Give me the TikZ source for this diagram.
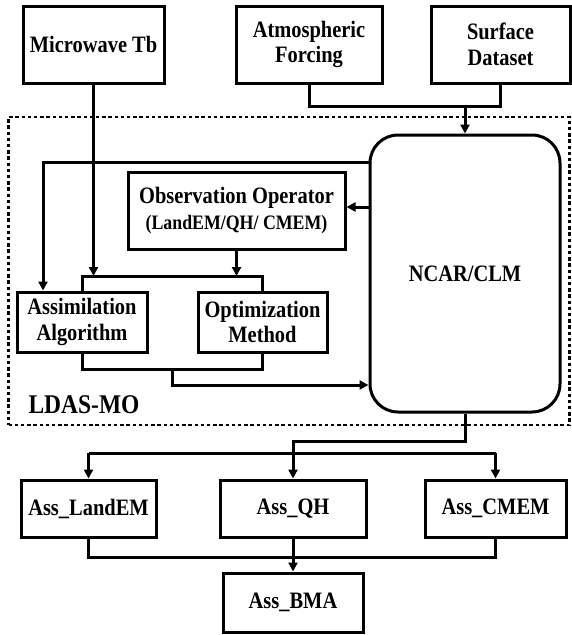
\documentclass[tikz,border=0pt]{standalone}
\usepackage{fontspec}
\setmainfont{Liberation Serif}[FakeStretch=0.87]
\usetikzlibrary{arrows.meta}
\begin{document}
\begin{tikzpicture}[x=1pt,y=-1pt,
  box/.style={draw, line width=3pt, rectangle, align=center, inner sep=0pt,
    font=\bfseries\fontsize{23.5}{25.5}\selectfont},
  conn/.style={line width=3pt},
  arr/.style={line width=3pt, -{Triangle[length=9pt,width=9pt]}},
  frame/.style={draw, line width=2.8pt, dash pattern=on 3.4pt off 2.8pt, inner sep=0pt}]
\useasboundingbox (0,0) rectangle (572,635);

% dotted frame
\node[frame, minimum width=561pt, minimum height=308pt] (ldas) at (289,271) {};
\node[font=\bfseries\fontsize{27}{28}\selectfont, inner sep=0pt] (ldaslbl) at (84,405) {LDAS-MO};

% top inputs
\node[box, minimum width=141pt, minimum height=77pt] (mw) at (93.5,44.5) {Microwave Tb};
\node[box, minimum width=146pt, minimum height=77pt] (af) at (309,44.5) {Atmospheric\\Forcing};
\node[box, minimum width=139pt, minimum height=77pt] (sd) at (500.5,44.5) {Surface\\Dataset};

% inner
\node[box, minimum width=190pt, minimum height=277pt, rounded corners=28pt] (ncar) at (465,273.5) {NCAR/CLM};
\node[box, minimum width=217pt, minimum height=77pt] (obs) at (236.5,210.5)
  {Observation Operator\\{\fontsize{20.5}{24}\selectfont (LandEM/QH/ CMEM)}};
\node[box, minimum width=130pt, minimum height=60pt] (assim) at (82,322) {Assimilation\\Algorithm};
\node[box, minimum width=129pt, minimum height=60pt] (optim) at (262.5,322) {Optimization\\Method};

% outputs
\node[box, minimum width=135pt, minimum height=57pt] (land) at (88.5,508.5) {Ass\_LandEM};
\node[box, minimum width=146pt, minimum height=57pt] (qh) at (293,508.5) {Ass\_QH};
\node[box, minimum width=141pt, minimum height=57pt] (cmem) at (495.5,508.5) {Ass\_CMEM};
\node[box, minimum width=140pt, minimum height=59pt] (bma) at (293,602.5) {Ass\_BMA};

% coordinates
\coordinate (j1) at (465,106);
\coordinate (brtop) at (0,276);
\coordinate (feedl) at (43,162);
\coordinate (feedy) at (0,162);
\coordinate (obsy) at (0,207);
\coordinate (bm) at (172,369);
\coordinate (outy) at (0,385);
\coordinate (k1) at (293,441);
\coordinate (busy) at (0,453);
\coordinate (bus2y) at (0,557);

% connectors top
\draw[conn] (af.south) |- (j1) -| (sd.south);
\draw[arr] (j1) -- (ncar.north);

% NCAR feedback
\draw[arr] (ncar.west |- feedy) -- (feedl) -- (feedl |- assim.north);
\draw[arr] (ncar.west |- obsy) -- (obs.east |- obsy);

% bracket top
\draw[conn] (assim.north) -- (assim.north |- brtop) -- (optim.north |- brtop) -- (optim.north);
\draw[arr] (mw.south) -- (mw.south |- brtop);
\draw[arr] (obs.south) -- (obs.south |- brtop);

% bracket bottom
\draw[conn] (assim.south) -- (assim.south |- bm) -- (optim.south |- bm) -- (optim.south);
\draw[arr] (bm) -- (bm |- outy) -- (ncar.west |- outy);

% NCAR to outputs
\draw[arr] (ncar.south) |- (k1) -- (qh.north);
\draw[conn] (land.north |- busy) -- (cmem.north |- busy);
\draw[arr] (land.north |- busy) -- (land.north);
\draw[arr] (cmem.north |- busy) -- (cmem.north);

% outputs to BMA
\draw[conn] (land.south) -- (land.south |- bus2y) -- (cmem.south |- bus2y) -- (cmem.south);
\draw[arr] (qh.south) -- (bma.north);
\end{tikzpicture}
\end{document}
